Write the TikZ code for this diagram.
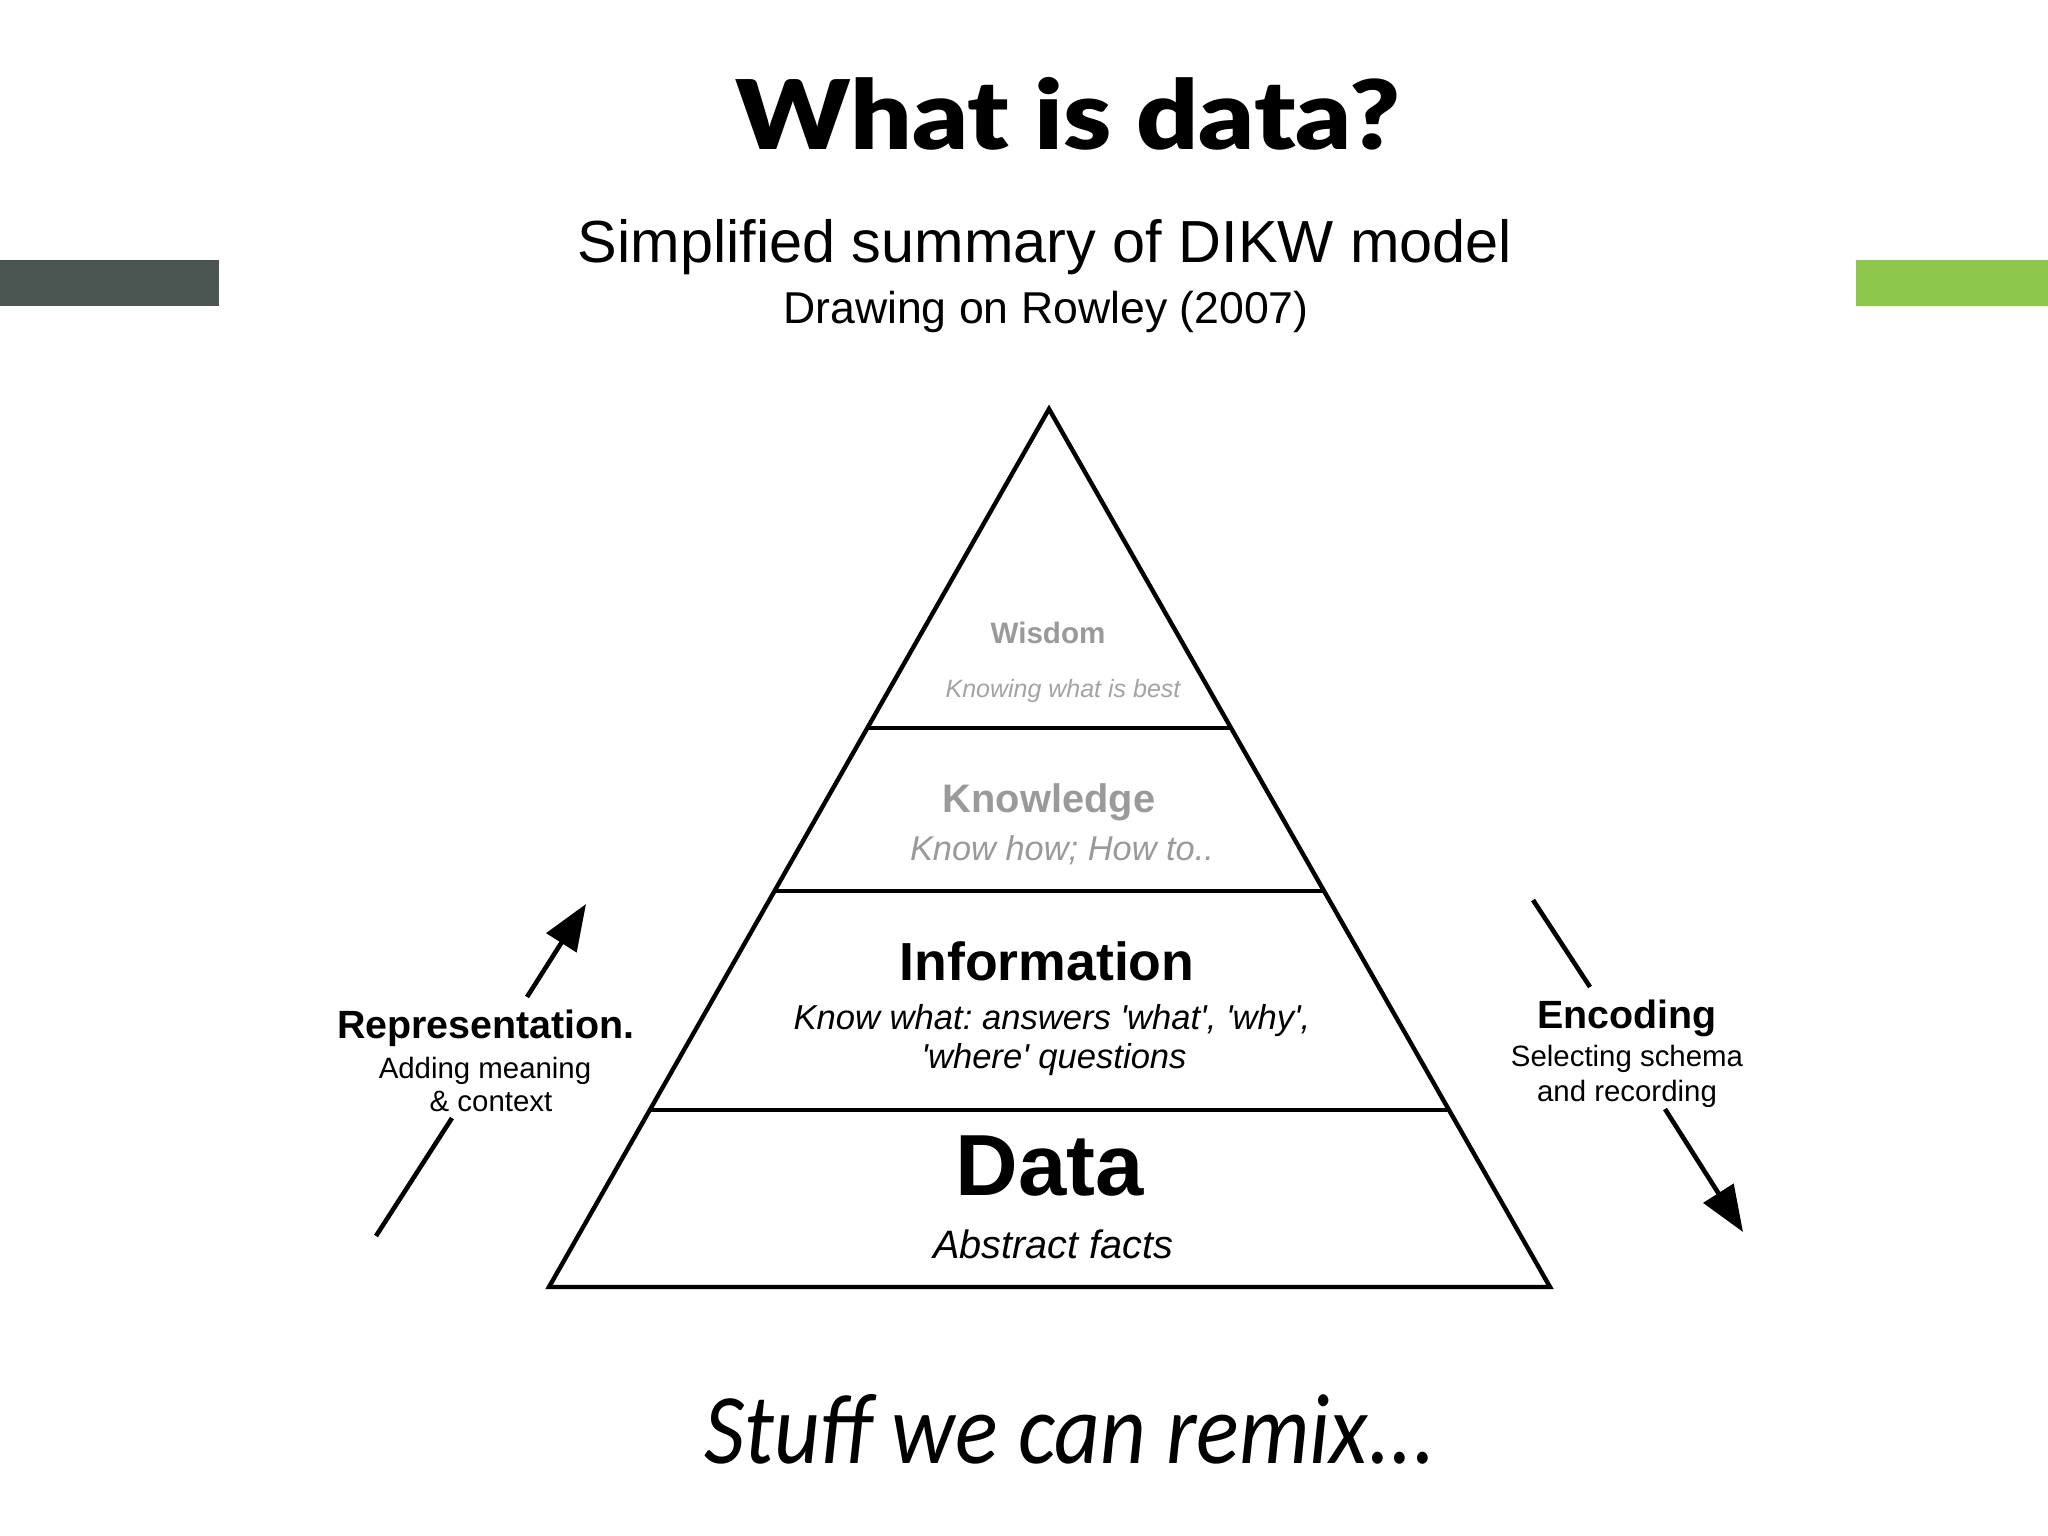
\documentclass[tikz,border=0pt]{standalone}
\usepackage{fontspec}
\setmainfont{Liberation Sans}
\newfontfamily\titlefont{Lato Black}
\newfontfamily\remixfont{Carlito}
\usetikzlibrary{arrows.meta,calc}
\definecolor{barDark}{HTML}{4B5551}
\definecolor{barGreen}{HTML}{8DC84B}
\definecolor{softGray}{HTML}{9A9A9A}
\definecolor{paleGray}{HTML}{A3A3A3}
\newcommand{\fsz}[1]{\fontsize{#1}{#1}\selectfont}
\newcommand{\sq}{\textquotesingle}
\frenchspacing
\begin{document}
\begin{tikzpicture}[x=0.5pt,y=-0.5pt,
  txt/.style={inner sep=0pt, anchor=base},
  pyr/.style={line width=2.2pt, line join=miter},
  flow/.style={line width=2.3pt},
  flowtip/.style={flow, -{Triangle[length=23pt,width=17.5pt]}},
]
\useasboundingbox (0,0) rectangle (2048,1535);
\fill[white] (0,0) rectangle (2048,1535);
\fill[barDark] (0,260) rectangle (219,306);
\fill[barGreen] (1856,260) rectangle (2048,306);

\node[txt, font=\titlefont\fsz{48}] (title) at (1068,150) {\scalebox{1.13}[1]{What is data?}};
\node[txt, font=\fsz{29.7}] (sub) at (1045,263) {Simplified summary of DIKW model};
\node[txt, font=\fsz{22.3}] (src) at (1046,324) {Drawing on Rowley (2007)};

% pyramid
\coordinate (A) at (1049,409);
\coordinate (BL) at (549,1287);
\coordinate (BR) at (1550,1287);
\draw[pyr] (A) -- (BL) -- (BR) -- cycle;
\draw[pyr] ($(A)!0.3633!(BL)$) -- ($(A)!0.3633!(BR)$);
\draw[pyr] ($(A)!0.5490!(BL)$) -- ($(A)!0.5490!(BR)$);
\draw[pyr] ($(A)!0.7984!(BL)$) -- ($(A)!0.7984!(BR)$);

\node[txt, font=\bfseries\fsz{14.8}, text=softGray] (wis) at (1048,643) {Wisdom};
\node[txt, font=\itshape\fsz{12.5}, text=paleGray] (wisd) at (1063,697) {Knowing what is best};
\node[txt, font=\bfseries\fsz{19.9}, text=softGray] (kno) at (1049,812) {Knowledge};
\node[txt, font=\itshape\fsz{17.2}, text=softGray] (knod) at (1062,860) {Know how; How to..};
\node[txt, font=\bfseries\fsz{26.8}] (inf) at (1047,980) {Information};
\node[txt, font=\itshape\fsz{17.3}] (infd1) at (1052,1029) {Know what: answers \sq what\sq, \sq why\sq,};
\node[txt, font=\itshape\fsz{17.3}] (infd2) at (1054,1068) {\sq where\sq{} questions};
\node[txt, font=\bfseries\fsz{43.4}] (dat) at (1050,1195) {Data};
\node[txt, font=\itshape\fsz{19.8}] (datd) at (1053,1258) {Abstract facts};

% left label
\node[txt, font=\bfseries\fsz{19.7}] (rep) at (486,1038) {Representation.};
\node[txt, font=\fsz{14.7}] (rep1) at (485,1078) {Adding meaning};
\node[txt, font=\fsz{14.7}] (rep2) at (491,1111) {\& context};
\coordinate (repA) at (376,1236);
\coordinate (repB) at (452,1118);
\coordinate (repC) at (527,997);
\coordinate (repD) at (586,904);
\draw[flow] (repA) -- (repB);
\draw[flowtip] (repC) -- (repD);

% right label
\node[txt, font=\bfseries\fsz{19.7}] (enc) at (1627,1028) {Encoding};
\node[txt, font=\fsz{14.7}] (enc1) at (1627,1066) {Selecting schema};
\node[txt, font=\fsz{14.7}] (enc2) at (1627,1101) {and recording};
\coordinate (encA) at (1533,900);
\coordinate (encB) at (1590,987);
\coordinate (encC) at (1665,1109);
\coordinate (encD) at (1743,1232);
\draw[flow] (encA) -- (encB);
\draw[flowtip] (encC) -- (encD);

\node[txt, font=\remixfont\itshape\fsz{50}] (remix) at (1070,1463) {\scalebox{0.89}[1]{Stuff we can remix...}};
\end{tikzpicture}
\end{document}
